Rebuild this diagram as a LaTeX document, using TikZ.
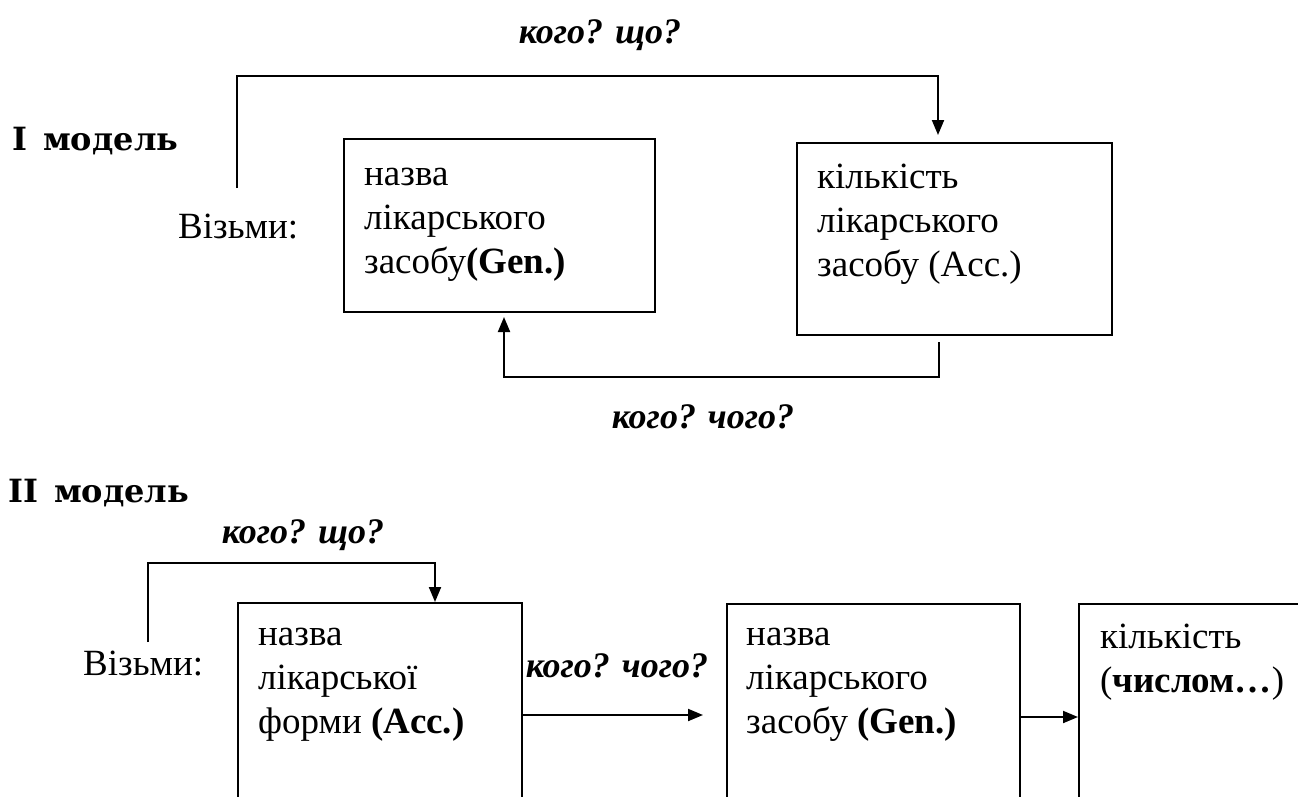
\documentclass[tikz,border=0pt]{standalone}
\usepackage{fontspec}
\setmainfont{Liberation Serif}
\newfontfamily\titlefont{DejaVu Serif}
\usetikzlibrary{arrows.meta}
\begin{document}
\begin{tikzpicture}[x=1pt,y=-1pt,
  box/.style={draw, line width=2pt, inner sep=0pt, anchor=north west},
  txt/.style={font=\fontsize{37}{44}\selectfont, inner sep=0pt, align=left, anchor=base west},
  q/.style={font=\fontsize{36}{40}\selectfont\bfseries\itshape, inner sep=0pt, anchor=base},
  ttl/.style={font=\titlefont\fontsize{32}{36}\selectfont\bfseries, inner sep=0pt, anchor=base west},
  conn/.style={line width=2pt},
  arr/.style={conn, -{Triangle[length=15pt,width=12pt]}}
]
\useasboundingbox (0,0) rectangle (1298,796);
\clip (0,0) rectangle (1298,796);

% ---------- model I ----------
\node[box, minimum width=311pt, minimum height=173pt] (b1) at (343,138) {};
\node[box, minimum width=315pt, minimum height=192pt] (b2) at (796,142) {};

\node[q] (q1) at (600,43) {кого? що?};
\node[ttl] (m1) at (12,150) {I\hspace{0.5em}модель};
\node[txt] (v1) at (178,238) {Візьми:};
\node[txt] (t1) at (364,273) {назва\\лікарського\\засобу\textbf{(Gen.)}};
\node[txt] (t2) at (817,276) {кількість\\лікарського\\засобу (Acc.)};
\node[q] (q2) at (703,428) {кого? чого?};

\coordinate (c1) at (237,188);
\coordinate (e1) at (938,135);
\draw[arr] (c1) -- ++(0,-112) -| (e1);

\coordinate (c2) at (939,342);
\coordinate (e2) at (504,317);
\draw[arr] (c2) -- ++(0,35) -| (e2);

% ---------- model II ----------
\node[box, minimum width=284pt, minimum height=260pt] (b3) at (237,602) {};
\node[box, minimum width=293pt, minimum height=260pt] (b4) at (726,603) {};
\node[box, minimum width=300pt, minimum height=260pt] (b5) at (1078,603) {};

\node[ttl] (m2) at (8,502) {II\hspace{0.5em}модель};
\node[q] (q3) at (303,543) {кого? що?};
\node[txt] (v2) at (83,675) {Візьми:};
\node[txt] (t3) at (258,733) {назва\\лікарської\\форми \textbf{(Acc.)}};
\node[q] (q4) at (617,677) {кого? чого?};
\node[txt] (t4) at (746,733) {назва\\лікарського\\засобу \textbf{(Gen.)}};
\node[txt] (t5) at (1100,692) {кількість\\(\textbf{числом…})};

\coordinate (c3) at (148,642);
\coordinate (e3) at (435,602);
\draw[arr] (c3) -- ++(0,-79) -| (e3);

\coordinate (e4) at (703,715);
\draw[arr] ([yshift=-113pt]b3.north east) -- (e4);
\draw[arr] ([yshift=-114pt]b4.north east) -- ([yshift=-114pt]b5.north west);
\end{tikzpicture}
\end{document}
